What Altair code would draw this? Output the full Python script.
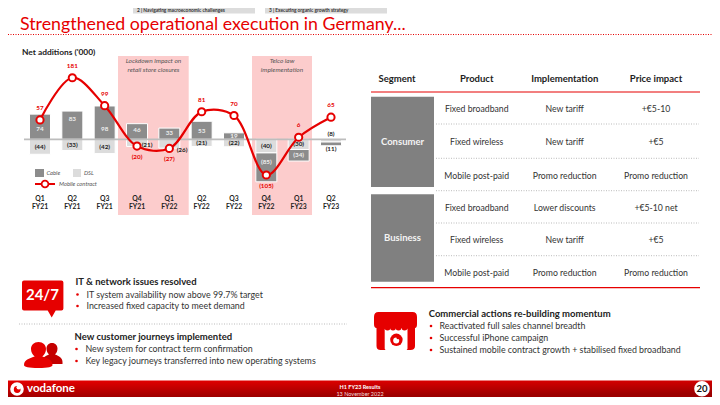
import altair as alt
import pandas as pd

# ---------- chart values ----------
quarters = ["Q1 FY21","Q2 FY21","Q3 FY21","Q4 FY21","Q1 FY22","Q2 FY22","Q3 FY22","Q4 FY22","Q1 FY23","Q2 FY23"]
cable = [74, 83, 98, 46, 33, 53, 19, -85, -34, -11]
dsl = [-44, -33, -42, -21, -26, -21, -22, -40, -30, -8]
mobile = [57, 181, 99, -20, -27, 81, 70, -105, 6, 65]
# height (in '000 on the same scale) at which each bar's label sits in the picture
cable_label_at = [30, 60, 30, 27, 18, 25, 10, -68, -46, None]
dsl_label_at = [-23.5, -17, -22, None, None, -11, -11, -20, -14, None]

# ---------- table ----------
headers = ["Segment", "Product", "Implementation", "Price impact"]
products = ["Fixed broadband", "Fixed wireless", "Mobile post-paid"] * 2
implementation = ["New tariff", "New tariff", "Promo reduction", "Lower discounts", "New tariff", "Promo reduction"]
price = ["+€5-10", "+€5", "Promo reduction", "+€5-10 net", "+€5", "Promo reduction"]

FONT = "Lato"
RED = "#e60000"
DARK = "#333333"
OX, OY = 8, 8
layers = []
one = alt.Data(values=[{"a": 1}])

def T(x, y, s, size=9, color=DARK, weight="normal", align="left", style="normal", font=FONT):
    layers.append(alt.Chart(one).mark_text(align=align, baseline="middle", font=font, fontSize=size,
                  fontWeight=weight, fontStyle=style, color=color).encode(
        x=alt.value(x - OX), y=alt.value(y - OY), text=alt.value(s)))

def R(x0, y0, x1, y1, color, **kw):
    layers.append(alt.Chart(one).mark_rect(color=color, **kw).encode(
        x=alt.value(x0 - OX), x2=alt.value(x1 - OX), y=alt.value(y0 - OY), y2=alt.value(y1 - OY)))

def L(x0, y0, x1, y1, color, width=1, dash=None):
    kw = {"strokeDash": dash} if dash else {}
    layers.append(alt.Chart(one).mark_rule(color=color, strokeWidth=width, **kw).encode(
        x=alt.value(x0 - OX), x2=alt.value(x1 - OX), y=alt.value(y0 - OY), y2=alt.value(y1 - OY)))

def P(x, y, path, color=RED, scale=1.0):
    layers.append(alt.Chart(one).mark_point(shape=path, filled=True, opacity=1, color=color, strokeWidth=0,
                  size=(2 * scale) ** 2).encode(x=alt.value(x - OX), y=alt.value(y - OY)))

def C(x, y, r, fill, stroke=None, sw=0):
    kw = {"stroke": stroke, "strokeWidth": sw} if stroke else {"strokeWidth": 0}
    layers.append(alt.Chart(one).mark_point(shape="circle", filled=True, opacity=1, fill=fill,
                  size=(2 * r) ** 2, **kw).encode(x=alt.value(x - OX), y=alt.value(y - OY)))

# ---------- slide furniture ----------
R(133, 8, 255, 13.5, "#dcdcdc")
R(265, 8, 387, 13.5, "#dcdcdc")
T(137, 10.6, "2 | Navigating macroeconomic challenges", size=4.8, weight="bold")
T(269, 10.6, "3 | Executing organic growth strategy", size=4.8, weight="bold")
T(20, 25, "Strengthened operational execution in Germany...", size=17.8, color=RED)
L(8, 34.5, 712, 34.5, RED, 1, [1, 1.5])
T(22, 52.3, "Net additions ('000)", size=8.4, weight="bold", color="#222222")

# pink bands
R(118, 56, 188.7, 215, "#fccccc")
R(252, 56, 312, 215, "#fccccc")
T(153.5, 61, "Lockdown impact on", size=6.5, style="italic", align="center", color="#555555")
T(153.5, 69.5, "retail store closures", size=6.5, style="italic", align="center", color="#555555")
T(282, 61, "Telco law", size=6.5, style="italic", align="center", color="#555555")
T(282, 69.5, "implementation", size=6.5, style="italic", align="center", color="#555555")

# ---------- bars and line through scales ----------
ZERO, K = 139.3, 0.34
def ypix(v):
    return ZERO - OY - K * v
xs = alt.Scale(type="point", domain=quarters, range=[40 - OX, 331 - OX], padding=0)
ys = alt.Scale(domain=[-150, 250], range=[ypix(-150), ypix(250)], nice=False, zero=False)
X = alt.X("q:N", scale=xs, axis=None, sort=quarters)
Y = alt.Y("lo:Q", scale=ys, axis=None)
XT = alt.X("q:N", scale=xs, axis=None, sort=quarters)

rows = []
for q, c, d, cl, dl in zip(quarters, cable, dsl, cable_label_at, dsl_label_at):
    rows.append(dict(q=q, s="DSL", lo=0, hi=d, v=d, at=dl))
    rows.append(dict(q=q, s="Cable", lo=(d if c < 0 else 0), hi=(d + c if c < 0 else c), v=c, at=cl))
bars = pd.DataFrame(rows)
bars["lab"] = [str(v) if v > 0 else f"({-v})" for v in bars.v]

layers.append(alt.Chart(bars).mark_bar(width=21, stroke="white", strokeWidth=1, opacity=1).encode(
    x=X, y=Y, y2="hi:Q",
    color=alt.Color("s:N", scale=alt.Scale(domain=["Cable", "DSL"], range=["#8c8c8c", "#dcdcdc"]), legend=None)))

L(24, 139.3, 346, 139.3, "#bdbdbd", 1.8)

inplace = bars[bars["at"].notna()]
layers.append(alt.Chart(inplace[inplace.s == "Cable"]).mark_text(font=FONT, fontSize=6.3, fontWeight="bold", color="#eeeeee", baseline="middle").encode(
    x=XT, y=alt.Y("at:Q", scale=ys, axis=None), text="lab:N"))
layers.append(alt.Chart(inplace[inplace.s == "DSL"]).mark_text(font=FONT, fontSize=6.3, fontWeight="bold", color="#222222", baseline="middle").encode(
    x=XT, y=alt.Y("at:Q", scale=ys, axis=None), text="lab:N"))

line = pd.DataFrame({"q": quarters, "lo": mobile})
line["lab"] = [str(v) if v > 0 else f"({-v})" for v in mobile]
layers.append(alt.Chart(line).mark_line(color=RED, strokeWidth=2.2, interpolate="catmull-rom").encode(x=X, y=Y))
layers.append(alt.Chart(line).mark_point(shape="circle", filled=True, fill="white", stroke=RED, strokeWidth=2, size=52, opacity=1).encode(x=X, y=Y))
layers.append(alt.Chart(line[line.lo > 0]).mark_text(font=FONT, fontSize=6.3, fontWeight="bold", color=RED, dy=-12, baseline="middle").encode(x=XT, y=Y, text="lab:N"))
layers.append(alt.Chart(line[line.lo < 0]).mark_text(font=FONT, fontSize=6.3, fontWeight="bold", color=RED, dy=10.5, baseline="middle").encode(x=XT, y=Y, text="lab:N"))

# labels set beside the bars
T(147, 144.5, "(21)", size=6.3, weight="bold", align="center", color="#222222")
T(182, 150, "(26)", size=6.3, weight="bold", align="center", color="#222222")
T(331, 134, "(8)", size=6.3, weight="bold", align="center", color="#222222")
T(331, 149, "(11)", size=6.3, weight="bold", align="center", color="#222222")

# quarter labels
cats = pd.DataFrame({"q": quarters, "a": [q.split()[0] for q in quarters], "b": [q.split()[1] for q in quarters]})
for fld, yy in (("a", 198.5), ("b", 206.5)):
    layers.append(alt.Chart(cats).mark_text(font=FONT, fontSize=6.8, fontWeight="bold", color="#222222", baseline="middle").encode(
        x=XT, y=alt.value(yy - OY), text=f"{fld}:N"))

# legend
R(35, 169, 44, 177, "#8c8c8c")
R(73, 169, 81, 177, "#dcdcdc")
T(46.5, 173.3, "Cable", size=5.8, style="italic", color="#555555")
T(84, 173.3, "DSL", size=5.8, style="italic", color="#555555")
L(35, 184, 55, 184, RED, 2)
C(45, 184, 3.4, "white", RED, 1.8)
T(59, 184, "Mobile contract", size=5.8, style="italic", color="#555555")

# ---------- table ----------
hx = [397, 476.7, 564.7, 656]
for x, s in zip(hx, headers):
    T(x, 79.3, s, size=9.5, weight="bold", align="center", color="#222222")
L(371, 92, 700, 92, RED, 1.2)
L(371, 287.7, 700, 287.7, RED, 1.2)
R(371, 96.7, 434, 187, "#808080")
R(371, 194.3, 434, 281.7, "#808080")
T(402.5, 142, "Consumer", size=9.5, weight="bold", align="center", color="#f4f4f4")
T(402.5, 238, "Business", size=9.5, weight="bold", align="center", color="#f4f4f4")
rowy = [108.7, 142, 175.7, 207.7, 240, 272.7]
for yy, a, b, c in zip(rowy, products, implementation, price):
    T(476.7, yy, a, size=8.7, align="center")
    T(564.7, yy, b, size=8.7, align="center")
    T(656, yy, c, size=8.7, align="center")
for yy in [124, 158.3, 190.7, 223, 255.7]:
    L(436, yy, 699, yy, "#aaaaaa", 0.8, [1, 1.5])

# ---------- lower blocks ----------
# 24/7 speech bubble
P(42.7, 298, "M-18.7 -17.5 H18.7 Q20.7 -17.5 20.7 -15.5 V10.5 Q20.7 12.5 18.7 12.5 H13 L9 19.5 L5 12.5 H-18.7 Q-20.7 12.5 -20.7 10.5 V-15.5 Q-20.7 -17.5 -18.7 -17.5 Z")
T(42.5, 294.5, "24/7", size=15, weight="bold", align="center", color="white")
# people
P(52, 353, "M0 -10 C3.5 -10 5.5 -7.5 5.5 -4.5 C5.5 -2 4.5 0 3 1.5 C7 3 10.5 5 10.5 9 L10.5 11 L-6 11 L-10.5 8 C-10 5 -7 3 -3 1.5 C-4.5 0 -5.5 -2 -5.5 -4.5 C-5.5 -7.5 -3.5 -10 0 -10 Z", "#c40000")
P(38.5, 354, "M0 -12 C4.5 -12 7.5 -9 7.5 -5 C7.5 -2 6 1 3.8 2.5 C8 4 14 5.5 14 11 C14 13 10 14 0 14 C-10 14 -14.5 13 -14.5 11 C-14.5 5.5 -8 4 -3.8 2.5 C-6 1 -7.5 -2 -7.5 -5 C-7.5 -9 -4.5 -12 0 -12 Z", RED)

def bullets(x_head, x_b, x_t, head_y, head, items, ys_):
    T(x_head, head_y, head, size=9.5, weight="bold", color="#222222")
    for yy, s in zip(ys_, items):
        C(x_b, yy, 1.3, RED)
        T(x_t, yy, s, size=8.85)

bullets(75.5, 77.5, 86.5, 282, "IT & network issues resolved",
        ["IT system availability now above 99.7% target", "Increased fixed capacity to meet demand"], [294.5, 306])
L(19, 324, 347, 324, "#aaaaaa", 0.8, [1, 1.5])
bullets(74.5, 76.5, 85.5, 337, "New customer journeys implemented",
        ["New system for contract term confirmation", "Key legacy journeys transferred into new operating systems"], [349, 361])
bullets(428.7, 431, 439.5, 314, "Commercial actions re-building momentum",
        ["Reactivated full sales channel breadth", "Successful iPhone campaign", "Sustained mobile contract growth + stabilised fixed broadband"], [326, 338, 350])

# shop icon
P(395.5, 331, "M-17 -19 H17 Q21.5 -19 21.5 -14 V-7 Q21.5 -3 19.5 -3 L19.5 15 Q19.5 19 15 19 H-15 Q-19 19 -19 15 L-19 -3 Q-21.5 -3 -21.5 -7 V-14 Q-21.5 -19 -17 -19 Z")
R(384.7, 328, 407.5, 350, "white", cornerRadius=1.5)
for cx in (387.5, 393, 398.5, 404.5):
    C(cx, 327.5, 3, RED)
C(396.4, 339.8, 6.2, RED)
C(396.2, 340.4, 3, "white")
C(398.3, 337.4, 1.9, RED)

# ---------- footer ----------
layers.append(alt.Chart(one).mark_rect(color=alt.Gradient(gradient="linear", x1=0, y1=0, x2=0.3, y2=1,
    stops=[alt.GradientStop(color="#e60000", offset=0), alt.GradientStop(color="#9c0000", offset=1)])).encode(
    x=alt.value(0), x2=alt.value(704), y=alt.value(380.5 - OY), y2=alt.value(389)))
C(17, 389, 6.8, "white")
C(17.2, 389.5, 3.4, RED)
C(18.8, 387.3, 2.3, "white")
T(27, 389, "vodafone", size=11.5, weight="bold", color="white")
T(360, 387, "H1 FY23 Results", size=5.5, weight="bold", align="center", color="white")
T(360, 393.5, "13 November 2022", size=5.5, align="center", color="#f3dcdc")
C(702, 388.8, 7.8, "white")
T(702, 389, "20", size=9.5, weight="bold", align="center", color="#111111")

chart = alt.layer(*layers).properties(width=704, height=389, padding=0,
    autosize=alt.AutoSizeParams(type="none"), background="white"
).configure_view(stroke=None)
chart.save("out.html", embed_options={"renderer": "svg", "actions": False})
